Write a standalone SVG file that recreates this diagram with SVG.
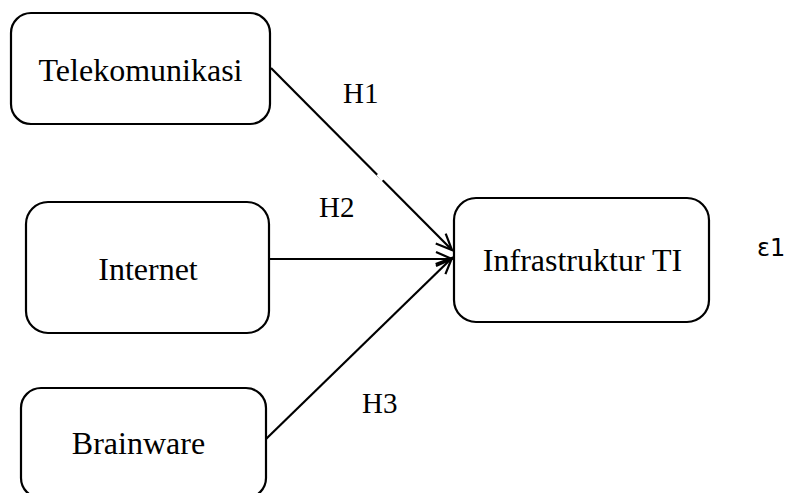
<svg xmlns="http://www.w3.org/2000/svg" width="788" height="493" viewBox="0 0 788 493">
<style>
.box{fill:#fff;stroke:#000;stroke-width:2.2}
.t{font-family:"Liberation Serif","Times New Roman",serif;font-size:32px;fill:#000;text-anchor:middle}
.lbl{font-family:"Liberation Serif","Times New Roman",serif;font-size:29px;fill:#000}
.e{font-family:"DejaVu Sans",sans-serif;font-size:24px;fill:#000}
.c{stroke:#000;stroke-width:2.2;fill:none}
</style>
<defs>
<marker id="arr" viewBox="0 0 20 20" refX="18" refY="10" markerWidth="20" markerHeight="20" markerUnits="userSpaceOnUse" orient="auto">
<path d="M2,3 L18,10 L2,17" fill="none" stroke="#000" stroke-width="2.2"/>
</marker>
</defs>
<rect width="788" height="493" fill="#fff"/>
<g id="connectors">
<line class="c" x1="271" y1="68" x2="452" y2="250" marker-end="url(#arr)"/>
<line class="c" x1="269" y1="259" x2="452" y2="259" marker-end="url(#arr)"/>
<line class="c" x1="266" y1="439" x2="452" y2="258" marker-end="url(#arr)"/>
<line x1="378" y1="174" x2="383" y2="180" stroke="#fff" stroke-width="4"/>
</g>
<g id="telekomunikasi">
<rect class="box" x="11" y="13" width="259" height="111" rx="20"/>
<text class="t" x="140.5" y="81">Telekomunikasi</text>
</g>
<g id="internet">
<rect class="box" x="26" y="202" width="243" height="131" rx="22"/>
<text class="t" x="148" y="280">Internet</text>
</g>
<g id="brainware">
<rect class="box" x="21" y="388" width="245" height="110" rx="20"/>
<text class="t" x="138.5" y="454">Brainware</text>
</g>
<g id="infrastruktur">
<rect class="box" x="454" y="198" width="255" height="124" rx="22"/>
<text class="t" x="582.5" y="271">Infrastruktur TI</text>
</g>
<g id="labels">
<text class="lbl" x="343" y="103">H1</text>
<text class="lbl" x="319" y="217">H2</text>
<text class="lbl" x="362" y="413">H3</text>
<text class="e" x="757" y="256">ε1</text>
</g>
</svg>
